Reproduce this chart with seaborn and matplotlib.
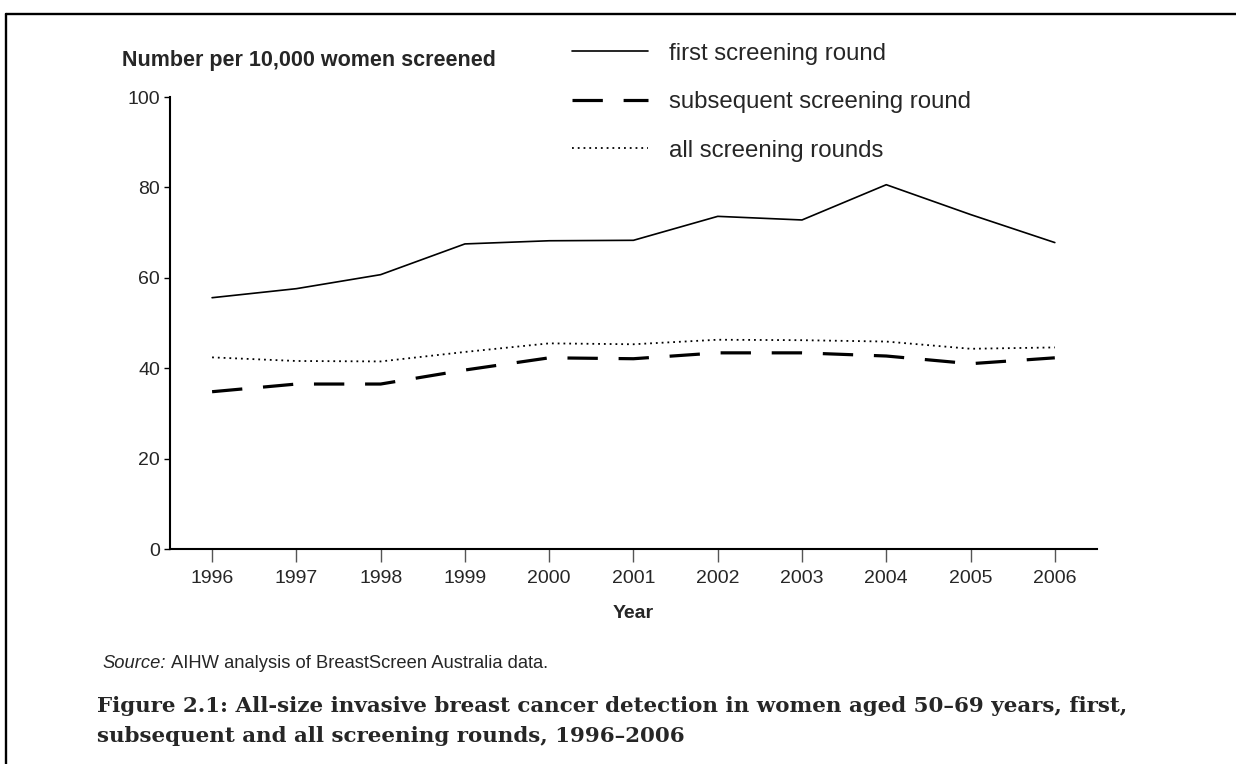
import numpy as np
import pandas as pd
import matplotlib
matplotlib.use("Agg")
import matplotlib.pyplot as plt
import seaborn as sns
from matplotlib.lines import Line2D

years = [1996, 1997, 1998, 1999, 2000, 2001, 2002, 2003, 2004, 2005, 2006]
first_round = [55.6, 57.6, 60.7, 67.5, 68.2, 68.3, 73.6, 72.8, 80.6, 74.0, 67.8]
subsequent_round = [34.8, 36.5, 36.5, 39.6, 42.3, 42.1, 43.4, 43.4, 42.7, 41.0, 42.3]
all_rounds = [42.4, 41.6, 41.5, 43.6, 45.5, 45.3, 46.3, 46.2, 45.9, 44.3, 44.6]
series_names = ["first screening round", "subsequent screening round", "all screening rounds"]
y_ticks = [0, 20, 40, 60, 80, 100]

sns.set_style("white")
plt.rcParams["font.family"] = ["Liberation Sans", "DejaVu Sans"]

fig = plt.figure(figsize=(12.36, 7.64), dpi=100)
ax = fig.add_axes([0.1375, 0.2814, 0.75, 0.5916])

styles = {
    "first screening round": dict(lw=1.2, dashes=None),
    "subsequent screening round": dict(lw=2.3, dashes=(9.5, 6.5)),
    "all screening rounds": dict(lw=1.3, dashes=(1, 2.2)),
}

for name, vals in zip(series_names, [first_round, subsequent_round, all_rounds]):
    df = pd.DataFrame({"year": years, "value": vals})
    st = styles[name]
    sns.lineplot(data=df, x="year", y="value", ax=ax, color="black",
                 linewidth=st["lw"], label=name)
    if st["dashes"] is not None:
        ax.lines[-1].set_dashes(st["dashes"])

ax.set_xlim(1995.5, 2006.5)
ax.set_ylim(0, 100)
ax.set_xticks(years)
ax.set_yticks(y_ticks)
ax.tick_params(axis="x", direction="out", length=9, width=1, color="#555555",
               labelsize=14, pad=6, bottom=True)
ax.tick_params(axis="y", direction="out", length=4, width=1, color="black",
               labelsize=14, pad=3, left=True)
for s in ["top", "right"]:
    ax.spines[s].set_visible(False)
for s in ["left", "bottom"]:
    ax.spines[s].set_linewidth(1.5)
    ax.spines[s].set_color("black")

ax.set_xlabel("Year", fontsize=14, fontweight="bold", labelpad=13)
ax.set_ylabel("")
fig.text(0.0987, 0.921, "Number per 10,000 women screened", fontsize=15.5,
         fontweight="bold", va="center", ha="left")

handles, labels = ax.get_legend_handles_labels()
ax.legend(handles, labels, loc="upper left", bbox_to_anchor=(0.455, 0.9565),
          bbox_transform=fig.transFigure, frameon=False, fontsize=17.3,
          handlelength=3.17, handletextpad=0.88, labelspacing=1.1, borderaxespad=0)

src = fig.text(0.0833, 0.132, "Source:", fontsize=13.2, style="italic", va="center")
fig.canvas.draw()
bb = src.get_window_extent().transformed(fig.transFigure.inverted())
fig.text(bb.x1 + 0.004, 0.132, "AIHW analysis of BreastScreen Australia data.",
         fontsize=13.2, va="center")

fig.text(0.0785, 0.0563,
         "Figure 2.1: All-size invasive breast cancer detection in women aged 50\u201369 years, first,\n"
         "subsequent and all screening rounds, 1996\u20132006",
         fontsize=15.4, fontweight="bold", family=["DejaVu Serif"],
         va="center", ha="left", linespacing=1.65)

# page frame
fig.add_artist(Line2D([0.005, 1.0], [0.9817, 0.9817], transform=fig.transFigure,
                      color="black", lw=1.7))
fig.add_artist(Line2D([0.005, 0.005], [0.0, 0.9817], transform=fig.transFigure,
                      color="black", lw=1.7))

fig.savefig("out.png", dpi=100, facecolor="white")
